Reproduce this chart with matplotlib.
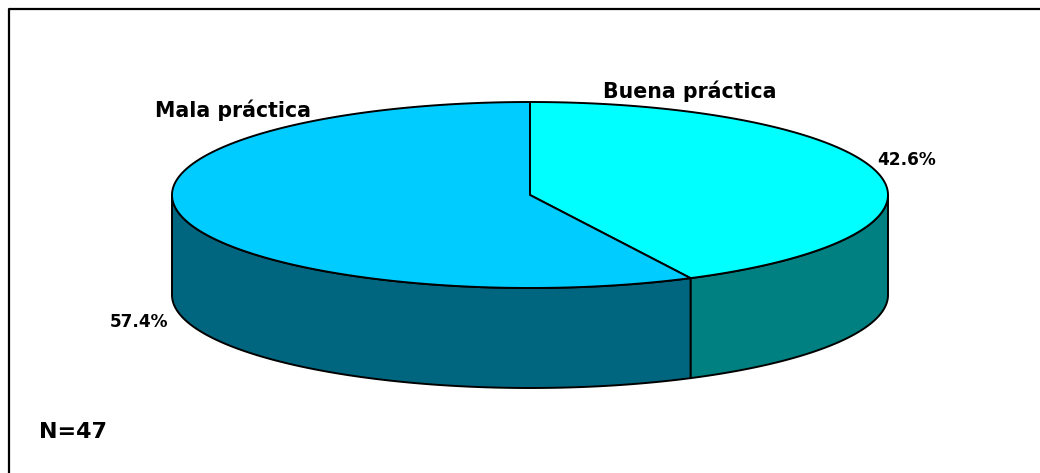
import numpy as np
import matplotlib
matplotlib.use("Agg")
import matplotlib.pyplot as plt
from matplotlib.patches import Polygon

# Data
categories = ["Buena práctica", "Mala práctica"]
percentages = [42.6, 57.4]
pct_labels = ["42.6%", "57.4%"]
sample_note = "N=47"

top_colors = ["#00FFFF", "#00CCFF"]
side_colors = ["#008080", "#006680"]

W, H = 1040, 473
fig = plt.figure(figsize=(W / 100, H / 100), dpi=100)
ax = fig.add_axes([0, 0, 1, 1])
ax.set_xlim(0, W)
ax.set_ylim(H, 0)
ax.axis("off")

# Chart-area frame (extends past right/bottom edges)
ax.plot([9, 9, W + 5], [H + 5, 9, 9], color="black", lw=1.6, solid_capstyle="butt", zorder=1)

# Pie geometry (pixel space)
cx, cy = 530, 195
rx, ry = 358, 93
depth = 100


def pt(theta_deg, dy=0.0):
    t = np.radians(theta_deg)
    return cx + rx * np.sin(t), cy - ry * np.cos(t) + dy


fracs = np.array(percentages) / sum(percentages)
bounds = np.concatenate([[0], np.cumsum(fracs) * 360])

# Side walls: only front half (90..270 deg clockwise from top) is visible
for i in range(len(fracs)):
    a0, a1 = bounds[i], bounds[i + 1]
    s0, s1 = max(a0, 90), min(a1, 270)
    if s1 <= s0:
        continue
    th = np.linspace(s0, s1, 200)
    top = np.array([pt(t) for t in th])
    bot = np.array([pt(t, depth) for t in th[::-1]])
    poly = np.vstack([top, bot])
    ax.add_patch(Polygon(poly, closed=True, facecolor=side_colors[i],
                         edgecolor="black", lw=1.4, joinstyle="round", zorder=2))

# Top faces
for i in range(len(fracs)):
    a0, a1 = bounds[i], bounds[i + 1]
    th = np.linspace(a0, a1, 400)
    arc = np.array([pt(t) for t in th])
    poly = np.vstack([[cx, cy], arc])
    ax.add_patch(Polygon(poly, closed=True, facecolor=top_colors[i],
                         edgecolor="black", lw=1.4, joinstyle="round", zorder=3))

# Text labels
bold = dict(fontweight="bold", color="black", family="DejaVu Sans", zorder=5)
ax.text(690, 91, categories[0], ha="center", va="center", fontsize=14.8, **bold)
ax.text(233, 110, categories[1], ha="center", va="center", fontsize=14.8, **bold)
ax.text(907, 160, pct_labels[0], ha="center", va="center", fontsize=12.2, **bold)
ax.text(139, 322, pct_labels[1], ha="center", va="center", fontsize=12.2, **bold)
ax.text(39, 432, sample_note, ha="left", va="center", fontsize=16, **bold)

fig.savefig("out.png", dpi=100, facecolor="white")
